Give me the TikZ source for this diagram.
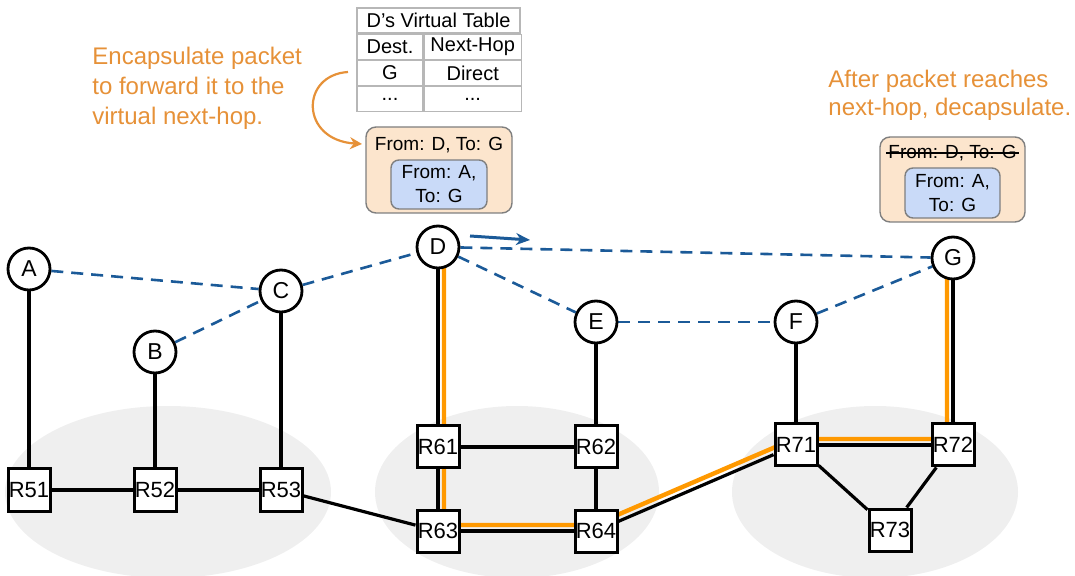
\documentclass[tikz,border=0pt]{standalone}
\usepackage{fontspec}
\setmainfont{Liberation Sans}
\usetikzlibrary{arrows.meta,positioning,calc,backgrounds}
\definecolor{ink}{HTML}{000000}
\definecolor{vblue}{HTML}{1B5A98}
\definecolor{routeor}{HTML}{FF9900}
\definecolor{noteor}{HTML}{E69138}
\definecolor{domainbg}{HTML}{EFEFEF}
\definecolor{pktbg}{HTML}{FCE5CD}
\definecolor{inbg}{HTML}{C9DAF8}
\definecolor{pktline}{HTML}{7F7F7F}
\definecolor{tgrid}{HTML}{B7B7B7}
\tikzset{
  every node/.style={font=\fontsize{11}{13}\selectfont, text=ink},
  host/.style={circle, draw=ink, line width=1.4pt, fill=white, minimum size=21pt,
               inner sep=0pt, font=\fontsize{11.5}{13}\selectfont},
  router/.style={rectangle, draw=ink, line width=1.5pt, fill=white, minimum size=21pt,
                 inner sep=0.3pt, font=\fontsize{11}{12}\selectfont},
  link/.style={draw=ink, line width=1.6pt},
  vlink/.style={draw=vblue, line width=1.3pt, dash pattern=on 6pt off 4pt},
  route/.style={draw=routeor, line width=2.2pt},
  pkt/.style={draw=pktline, line width=0.7pt, rounded corners=5pt, fill=pktbg},
  inpkt/.style={draw=pktline, line width=0.7pt, rounded corners=4pt, fill=inbg,
                align=center, font=\fontsize{9.5}{12}\selectfont},
  hdr/.style={inner sep=0pt, font=\fontsize{9.5}{12}\selectfont},
  tcell/.style={draw=tgrid, line width=0.6pt, minimum height=12.5pt, inner sep=0pt,
                font=\fontsize{10}{12}\selectfont},
  note/.style={align=left, inner sep=0pt, text=noteor},
  oarr/.style={-{Stealth[length=6pt, width=6pt]}, draw=noteor, line width=1.1pt},
  barr/.style={-{Stealth[length=7pt, width=6pt]}, draw=vblue, line width=1.5pt},
}

\begin{document}
\begin{tikzpicture}[x=0.5pt, y=-0.5pt]
\useasboundingbox (0,0) rectangle (1075,576);
\clip (0,0) rectangle (1075,576);

% --- domains (background) ---
\begin{scope}[on background layer]
\fill[domainbg] (168,492) ellipse [x radius=163, y radius=86];
\fill[domainbg] (517,492) ellipse [x radius=142, y radius=86];
\fill[domainbg] (875,492) ellipse [x radius=143, y radius=86];
\end{scope}

% --- overlay hosts ---
\node[host] (A) at (29,269) {A};
\node[host] (B) at (155,352) {B};
\node[host] (C) at (281,291) {C};
\node[host] (D) at (438,247) {D};
\node[host] (E) at (596,322) {E};
\node[host] (F) at (796,322) {F};
\node[host] (G) at (953,258) {G};

% --- routers ---
\node[router] (R51) at (29,490) {R51};
\node[router] (R52) at (155,490) {R52};
\node[router] (R53) at (281,490) {R53};
\node[router] (R61) at (438,447) {R61};
\node[router] (R62) at (596,447) {R62};
\node[router] (R63) at (438,531) {R63};
\node[router] (R64) at (596,531) {R64};
\node[router] (R71) at (796,445) {R71};
\node[router] (R72) at (953,445) {R72};
\node[router] (R73) at (890,530) {R73};

% --- links ---
\begin{scope}[on background layer]
\draw[link] (A) -- (R51);
\draw[link] (B) -- (R52);
\draw[link] (C) -- (R53);
\draw[link] (D) -- (R61);
\draw[link] (E) -- (R62);
\draw[link] (F) -- (R71);
\draw[link] (G) -- (R72);
\draw[link] (R51) -- (R52) -- (R53);
\draw[link] (R53) -- (R63);
\draw[link] (R61) -- (R62);
\draw[link] (R61) -- (R63);
\draw[link] (R62) -- (R64);
\draw[link] (R63) -- (R64);
\draw[link] (R64) -- (R71);
\draw[link] (R71) -- (R72);
\draw[link] (R71) -- (R73);
\draw[link] (R72) -- (R73);

% --- virtual links ---
\draw[vlink] (A) -- (C);
\draw[vlink] (B) -- (C);
\draw[vlink] (C) -- (D);
\draw[vlink] (D) -- (G);
\draw[vlink] (D) -- (E);
\draw[vlink] (E) -- (F);
\draw[vlink] (F) -- (G);

% --- underlay path of the packet ---
\draw[route] ($(D)+(6,0)$) -- ($(R63)+(6,-6)$) -- ($(R64)+(-2,-6)$)
  -- ($(R71)+(-2,-6)$) -- ($(R72)+(-6,-6)$) -- ($(G)+(-6,0)$);
\end{scope}

\coordinate (mvs) at (470,236);
\coordinate (mve) at (530,240);
\draw[barr] (mvs) -- (mve);

% --- D's table ---
\node[tcell, minimum width=81.5pt] (ttl) at (438.5,20.5) {D's Virtual Table};
\node[tcell, minimum width=33pt, anchor=north west] (hdest) at (ttl.south west) {Dest.};
\node[tcell, minimum width=48.5pt, anchor=north west] (hhop) at (hdest.north east) {Next-Hop};
\node[tcell, minimum width=33pt, anchor=north west] (gdest) at (hdest.south west) {G};
\node[tcell, minimum width=48.5pt, anchor=north west] (ghop) at (gdest.north east) {Direct};
\node[tcell, minimum width=33pt, anchor=north west] (xdest) at (gdest.south west) {...};
\node[tcell, minimum width=48.5pt, anchor=north west] (xhop) at (xdest.north east) {...};

% --- packets ---
\node[pkt, minimum width=73pt, minimum height=43pt] (pktD) at (439,170) {};
\node[hdr] (hdrD) at (439,145) {From: D, To: G};
\node[inpkt, minimum width=48pt, minimum height=24.5pt, inner sep=1pt] (inD) at (439,184.5) {From: A,\\To: G};

\node[pkt, minimum width=72.5pt, minimum height=42.5pt] (pktG) at (952.5,179.5) {};
\node[hdr] (hdrG) at (952.5,153) {From: D, To: G};
\draw[ink, line width=0.8pt] ([xshift=-1pt]hdrG.west) -- ([xshift=1pt]hdrG.east);
\node[inpkt, minimum width=47.5pt, minimum height=25pt, inner sep=1pt] (inG) at (952.5,193) {From: A,\\To: G};

% --- notes ---
\node[note, anchor=north west, font=\fontsize{12}{15}\selectfont] (encap) at (92,47)
  {Encapsulate packet\\to forward it to the\\virtual next-hop.};
\node[note, anchor=north west, font=\fontsize{12}{14}\selectfont] (decap) at (828,70)
  {After packet reaches\\next-hop, decapsulate.};

\coordinate (cas) at (348,72);
\coordinate (cae) at (362,144);
\draw[oarr] (cas) .. controls (300,75) and (300,140) .. (cae);

\end{tikzpicture}
\end{document}
